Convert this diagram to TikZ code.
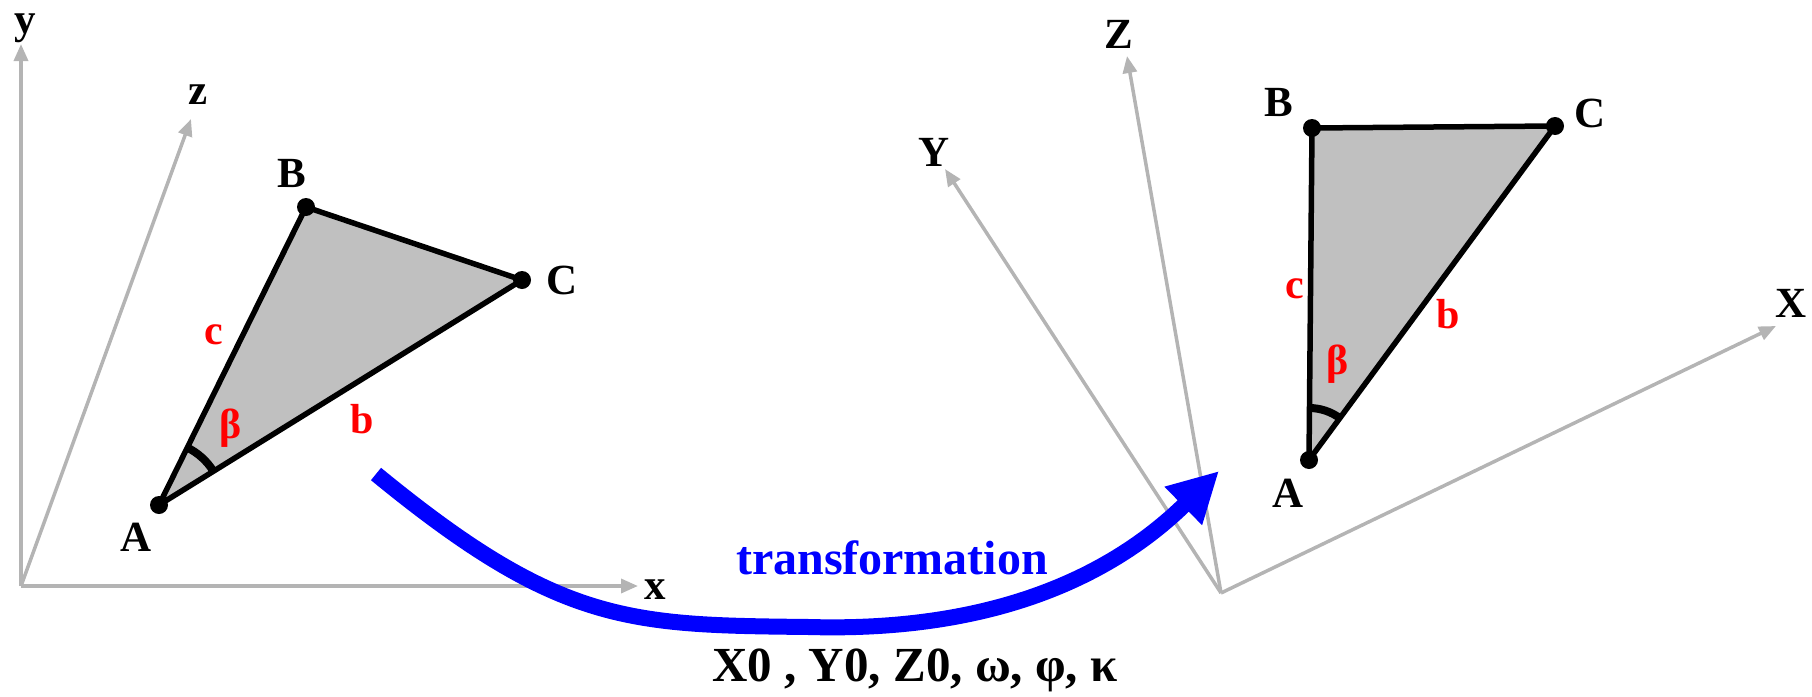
\documentclass[tikz,border=0pt]{standalone}
\usepackage{fontspec}
\setmainfont{Liberation Serif}
\usetikzlibrary{arrows.meta,angles}
\definecolor{axisgray}{RGB}{180,180,180}
\definecolor{trigray}{RGB}{192,192,192}
\begin{document}
\begin{tikzpicture}[x=1pt,y=-1pt,
  axis/.style={draw=axisgray, line width=3.5pt, -{Triangle[length=17pt,width=14pt]}},
  lbl/.style={font=\fontsize{43}{45}\selectfont\bfseries, text=black, inner sep=0pt},
  side/.style={font=\fontsize{42}{44}\selectfont\bfseries, text=red, inner sep=0pt},
  tri/.style={draw=black, fill=trigray, line width=5.5pt, line join=round},
  vdot/.style={circle, fill=black, inner sep=0pt, minimum size=18pt},
  bluearrow/.style={draw=blue, line width=16pt, -{Triangle[length=50pt,width=50pt]}},
  anglearc/.style={draw=black, line width=8pt}
]
\useasboundingbox (0,0) rectangle (1812,696);

% ---------- left system ----------
\coordinate (O1) at (21,586);
\coordinate (y1) at (21,44);
\coordinate (z1) at (191,119);
\coordinate (x1) at (638,586);
\draw[axis] (O1) -- (y1);
\draw[axis] (O1) -- (z1);
\draw[axis] (O1) -- (x1);
\node[lbl] (ly1) at (25,28) {y};
\node[lbl] (lz1) at (198,95) {z};
\node[lbl] (lx1) at (655,590) {x};

\coordinate (A1) at (159,505);
\coordinate (B1) at (306,207);
\coordinate (C1) at (522,280);
\draw[tri] (A1) -- (B1) -- (C1) -- cycle;
\pic[anglearc, angle radius=64pt] {angle=C1--A1--B1};
\node[vdot] (dA1) at (A1) {};
\node[vdot] (dB1) at (B1) {};
\node[vdot] (dC1) at (C1) {};
\node[lbl] (lA1) at (136,537) {A};
\node[lbl] (lB1) at (292,173) {B};
\node[lbl] (lC1) at (562,280) {C};
\node[side] (lc1) at (214,335) {c};
\node[side] (lb1) at (362,419) {b};
\node[side] (lbeta1) at (231,428) {β};

% ---------- right system ----------
\coordinate (O2) at (1221,593);
\coordinate (Z2) at (1127,56);
\coordinate (Y2) at (945,169);
\coordinate (X2) at (1776,326);
\draw[axis] (O2) -- (Z2);
\draw[axis] (O2) -- (Y2);
\draw[axis] (O2) -- (X2);
\node[lbl] (lZ2) at (1119,34) {Z};
\node[lbl] (lY2) at (934,152) {Y};
\node[lbl] (lX2) at (1791,303) {X};

\coordinate (A2) at (1309,460);
\coordinate (B2) at (1312,128);
\coordinate (C2) at (1555,126);
\draw[tri] (A2) -- (B2) -- (C2) -- cycle;
\pic[anglearc, angle radius=52pt] {angle=C2--A2--B2};
\node[vdot] (dA2) at (A2) {};
\node[vdot] (dB2) at (B2) {};
\node[vdot] (dC2) at (C2) {};
\node[lbl] (lA2) at (1288,493) {A};
\node[lbl] (lB2) at (1279,102) {B};
\node[lbl] (lC2) at (1590,113) {C};
\node[side] (lc2) at (1295,289) {c};
\node[side] (lb2) at (1448,314) {b};
\node[side] (lbeta2) at (1338,364) {β};

% ---------- transformation arrow ----------
\coordinate (ts) at (376,474);
\coordinate (tm) at (809,627);
\coordinate (te) at (1219,471);
\draw[bluearrow] (ts) .. controls (560,625) and (630,625) .. (tm)
                      .. controls (1020,633) and (1130,558) .. (te);
\node[font=\fontsize{48}{50}\selectfont\bfseries, text=blue, inner sep=0pt] (ltrans) at (892,558) {transformation};
\node[lbl, font=\fontsize{49}{51}\selectfont\bfseries] (lparams) at (915,670) {X0 , Y0, Z0, ω, φ, κ};
\end{tikzpicture}
\end{document}
